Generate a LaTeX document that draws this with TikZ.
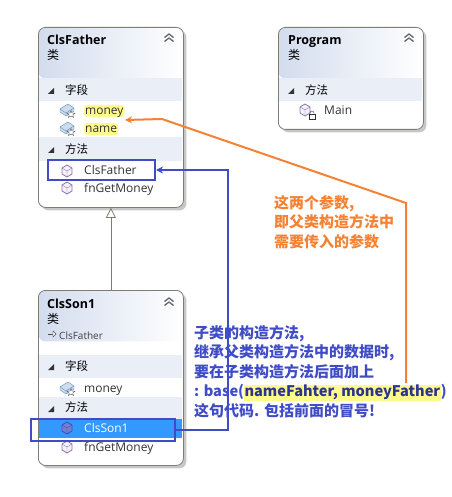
\documentclass[tikz,border=0pt]{standalone}
\usepackage{xcolor}
\usepackage{fontspec}
\setmainfont{Open Sans}
\newfontfamily\cjk{Noto Sans CJK SC}
\usetikzlibrary{arrows.meta,shadows}
\definecolor{boxline}{HTML}{7D7D72}
\definecolor{headfill}{HTML}{D3DCEE}
\definecolor{secfill}{HTML}{E9EEF7}
\definecolor{selfill}{HTML}{3399FF}
\definecolor{markblue}{HTML}{3F4CC6}
\definecolor{markorange}{HTML}{F58233}
\definecolor{hlyellow}{HTML}{FFFA8C}
\definecolor{iconblue}{HTML}{5B8AC0}
\definecolor{iconpurple}{HTML}{8E75B5}
\newcommand{\hlword}[1]{{\setlength{\fboxsep}{0.5pt}\colorbox{hlyellow}{\color{markblue!70!black}#1}}}
\tikzset{
  % Class boxes
  clsbox/.style={draw=boxline,thick,fill=white,rounded corners=7pt,anchor=north west,
                 minimum width=145pt,minimum height=#1,inner sep=0pt,
                 drop shadow={shadow xshift=3pt,shadow yshift=-3pt,fill=black!22,opacity=1},
                 path picture={
                   \shade[left color=headfill,right color=white]
                     (path picture bounding box.north west) rectangle
                     ([yshift=-51pt]path picture bounding box.north east);
                 }},
  clstitle/.style={font=\bfseries\fontsize{12.5}{15}\selectfont,anchor=west,inner sep=0pt,
                   text height=8pt,text depth=0pt},
  clskind/.style={font=\cjk\fontsize{12}{13}\selectfont,anchor=west,inner sep=0pt},
  clsbase/.style={font=\fontsize{10}{12}\selectfont,anchor=west,inner sep=0pt,text=black!75,
                  text height=8pt,text depth=0pt},
  % Rows
  secbar/.style={fill=secfill,minimum width=143pt,minimum height=23pt,anchor=west,
                 inner sep=0pt},
  seclabel/.style={font=\cjk\fontsize{11.5}{13}\selectfont,anchor=west,inner sep=0pt},
  member/.style={font=\fontsize{12}{13}\selectfont,anchor=west,inner sep=0pt,text=black!80,
                 text height=8pt,text depth=0pt},
  selrow/.style={fill=selfill,minimum width=143pt,minimum height=19pt,anchor=west,inner sep=0pt},
  hlmember/.style={member,fill=hlyellow,rounded corners=3pt,inner xsep=1pt,inner ysep=2pt},
  % Annotations
  hlbox/.style={draw=markblue,line width=2pt,anchor=north west,inner sep=0pt},
  bluenote/.style={font=\cjk\bfseries\fontsize{15}{19.5}\selectfont,text=markblue,
                   align=left,anchor=north west,inner sep=0pt},
  orangenote/.style={font=\cjk\bfseries\fontsize{15}{19.5}\selectfont,text=markorange,
                     align=left,anchor=north west,inner sep=0pt},
  % Connectors
  blueline/.style={-{Stealth[length=7pt,width=7pt]},draw=markblue,line width=2pt},
  orangeline/.style={-{Stealth[length=7pt,width=7pt]},draw=markorange,line width=2pt},
  inherit/.style={-{Triangle[open,length=10pt,width=10pt,fill=white]},draw=boxline,thick},
  % Little glyphs
  sectri/.pic={\fill[black!80] (-3,3) -- (3,3) -- (3,-3) -- cycle;},
  collapse/.pic={
    \draw[black!60,line width=1.3pt] (-4.5,-0.5) -- (0,-4) -- (4.5,-0.5) (-4.5,3.5) -- (0,0) -- (4.5,3.5);
  },
  baseglyph/.pic={
    \draw[black!70] (-4,0) -- (1,0);
    \draw[black!70,fill=white] (1,-3) -- (4,0) -- (1,3) -- cycle;
  },
  fieldicon/.pic={
    \draw[iconblue,fill=iconblue!30] (-7,-1) -- (1,-6) -- (7,-2) -- (7,1) -- (-1,6) -- (-7,2) -- cycle;
    \draw[iconblue] (-7,-1) -- (-1,3) -- (7,-2) (-1,3) -- (-1,6);
    \draw[black!65,fill=white] (4,0.5) -- (5,3) -- (8,3.2) -- (5.8,5) -- (6.6,7.5) -- (4,6) -- (1.4,7.5)
      -- (2.2,5) -- (0,3.2) -- (3,3) -- cycle;
  },
  methicon/.pic={
    \draw[iconpurple,thick,fill=iconpurple!10] (0,-6) -- (5,-3) -- (5,3) -- (0,6) -- (-5,3) -- (-5,-3) -- cycle;
    \draw[iconpurple] (-5,-3) -- (0,0) -- (5,-3) (0,0) -- (0,6);
  },
  selicon/.pic={
    \draw[markblue,thick,fill=iconpurple!70!selfill] (0,-6) -- (5,-3) -- (5,3) -- (0,6) -- (-5,3) -- (-5,-3) -- cycle;
    \draw[markblue] (-5,-3) -- (0,0) -- (5,-3) (0,0) -- (0,6);
  },
  lockicon/.pic={
    \draw[black!80,fill=white] (-3,0) rectangle (3,5);
    \draw[black!80] (-2,0) -- (-2,-1) arc (180:360:2 and 2) -- (2,0);
  }
}
\begin{document}
\begin{tikzpicture}[x=1pt,y=-1pt]
  \useasboundingbox (0,0) rectangle (451,497);

  \node[clsbox=180pt] (father) at (38,27) {};
  \node[clsbox=175pt] (son) at (38,290) {};
  \node[clsbox=102pt] (program) at (278,27) {};

  % ClsFather
  \node[clstitle] (ftitle) at (47,41) {ClsFather};
  \node[clskind] (fkind) at (47,55) {类};
  \pic at (169,38) {collapse};
  \node[secbar] (fsec1) at (39,90) {};
  \node[seclabel] (ffield) at (65,90) {字段};
  \pic at (51,91) {sectri};
  \pic at (67,110) {fieldicon};
  \node[hlmember] (fmoney) at (84,111) {money};
  \pic at (67,128) {fieldicon};
  \node[hlmember] (fname) at (84,129) {name};
  \node[secbar] (fsec2) at (39,149) {};
  \node[seclabel] (fmeth) at (65,149) {方法};
  \pic at (51,150) {sectri};
  \pic at (67,171) {methicon};
  \node[member] (fctor) at (84,171) {ClsFather};
  \pic at (67,188) {methicon};
  \node[member] (fget) at (84,188) {fnGetMoney};

  % ClsSon1
  \node[clstitle] (stitle) at (47,304) {ClsSon1};
  \node[clskind] (skind) at (47,319) {类};
  \pic at (52,334) {baseglyph};
  \node[clsbase] (sbase) at (59,335) {ClsFather};
  \pic at (169,302) {collapse};
  \node[secbar] (ssec1) at (39,366.5) {};
  \node[seclabel] (sfield) at (65,366) {字段};
  \pic at (51,367) {sectri};
  \pic at (67,388) {fieldicon};
  \node[member] (smoney) at (84,388) {money};
  \node[secbar] (ssec2) at (39,408) {};
  \node[seclabel] (smeth) at (65,407) {方法};
  \pic at (51,409) {sectri};
  \node[selrow] (ssel) at (39,428.5) {};
  \pic at (67,428) {selicon};
  \node[member,text=white] (sctor) at (84,428) {ClsSon1};
  \pic at (67,447) {methicon};
  \node[member] (sget) at (84,447) {fnGetMoney};

  % Program
  \node[clstitle] (ptitle) at (288,41) {Program};
  \node[clskind] (pkind) at (288,55) {类};
  \pic at (409,38) {collapse};
  \node[secbar] (psec) at (279,90) {};
  \node[seclabel] (pmeth) at (305,90) {方法};
  \pic at (291,91) {sectri};
  \pic at (305,110) {methicon};
  \pic at (312,114) {lockicon};
  \node[member] (pmain) at (324,111) {Main};

  % inheritance
  \draw[inherit] (son.north) -- (father.south);

  % Marks
  \node[hlbox,minimum width=107pt,minimum height=20pt] (hlfather) at (47,159) {};
  \node[hlbox,minimum width=144pt,minimum height=22pt] (hlson) at (30,418) {};

  \coordinate (bluecorner) at (228,300);
  \draw[blueline] (hlson.east) -| (bluecorner) |- (hlfather.east);

  \coordinate (orangestart) at (406,383);
  \coordinate (orangetop) at (406,203);
  \coordinate (orangebend) at (162,119);
  \coordinate (orangeend) at (125,120);
  \draw[orangeline] (orangestart) -- (orangetop) -- (orangebend) -- (orangeend);

  \node[orangenote] (ordernote) at (274,195) {这两个参数,\\即父类构造方法中\\需要传入的参数};
  \node[bluenote] (ctornote) at (194,325) {子类的构造方法,\\继承父类构造方法中的数据时,\\要在子类构造方法后面加上\\{\fontsize{14.6}{19.5}\selectfont : base(\hlword{nameFahter, moneyFather})}\\这句代码. 包括前面的冒号!};
\end{tikzpicture}
\end{document}
